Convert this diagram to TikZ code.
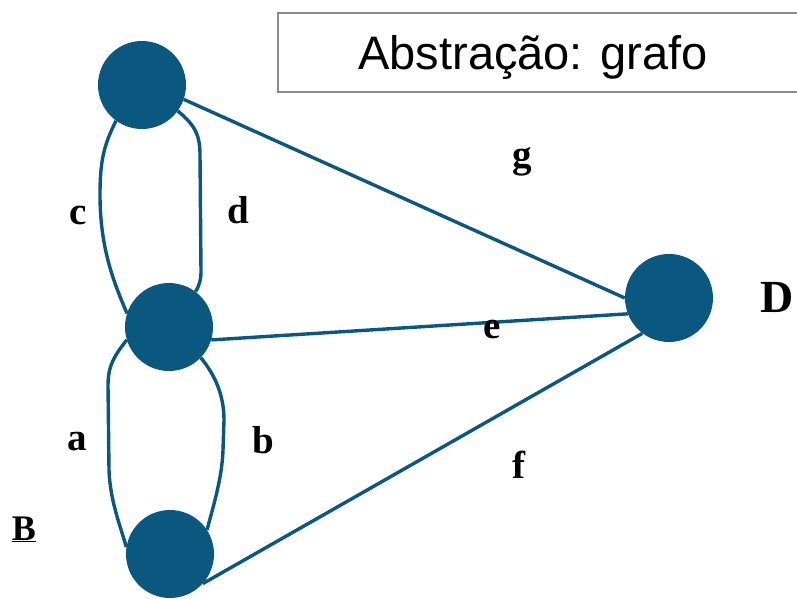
\documentclass[tikz,border=0pt]{standalone}
\usepackage{fontspec}
\setmainfont{Liberation Serif}
\newfontfamily\arialf{Liberation Sans}
\definecolor{nodeblue}{RGB}{10,88,128}
\definecolor{boxgray}{RGB}{140,140,140}
\tikzset{
  vertex/.style={circle, fill=nodeblue, draw=none, minimum size=88pt, inner sep=0pt},
  edge/.style={draw=nodeblue, line width=3.4pt},
  elabel/.style={font=\fontsize{39}{41}\selectfont\bfseries, inner sep=0pt},
  titlebox/.style={draw=boxgray, line width=2pt},
}
\begin{document}
\begin{tikzpicture}[x=1pt,y=-1pt]
\useasboundingbox (0,0) rectangle (797,599);
\fill[white] (0,0) rectangle (797,599);
% title box
\draw[titlebox] (799,13) -- (278,13) -- (278,92) -- (799,92);
\node[anchor=base, inner sep=0pt, font=\arialf\fontsize{47}{50}\selectfont] (title) at (533,70) {Abstração: grafo};
% vertices
\node[vertex] (A) at (142,85) {};
\node[vertex] (M) at (169,327) {};
\node[vertex] (C) at (170,554) {};
\node[vertex] (D) at (669,298) {};
% straight edges
\draw[edge] (A.-19) -- (D.180);
\draw[edge] (M.-17) -- (D.201);
\draw[edge] (C.-42) -- (D.233);
% curved edges
\draw[edge] (A.234) .. controls (104,145) and (100,160) .. (100,195)
  .. controls (100,250) and (115,285) .. (M.162);
\draw[edge] (A.-36) .. controls (196,126) and (200,136) .. (200,155)
  -- (201,272) .. controls (201,280) and (199,286) .. (M.53);
\draw[edge] (M.197) .. controls (115,355) and (108,365) .. (108,385)
  -- (109,470) .. controls (110,500) and (120,525) .. (C.171);
\draw[edge] (M.-44) .. controls (215,375) and (224,395) .. (224,420)
  -- (223,450) .. controls (222,480) and (212,510) .. (C.33);
% labels
\node[elabel] (lc) at (78,215) {c};
\node[elabel] (ld) at (238,210) {d};
\node[elabel] (la) at (77,442) {a};
\node[elabel] (lb) at (263,440) {b};
\node[elabel] (lg) at (522,162) {g};
\node[elabel] (le) at (492,330) {e};
\node[elabel] (lf) at (519,465) {f};
\node[font=\fontsize{46}{48}\selectfont\bfseries, inner sep=0pt] (lD) at (777,297) {D};
\node[font=\fontsize{36}{38}\selectfont\bfseries, inner sep=0pt, anchor=base] (lB) at (24,540) {\underline{B}};
\end{tikzpicture}
\end{document}
